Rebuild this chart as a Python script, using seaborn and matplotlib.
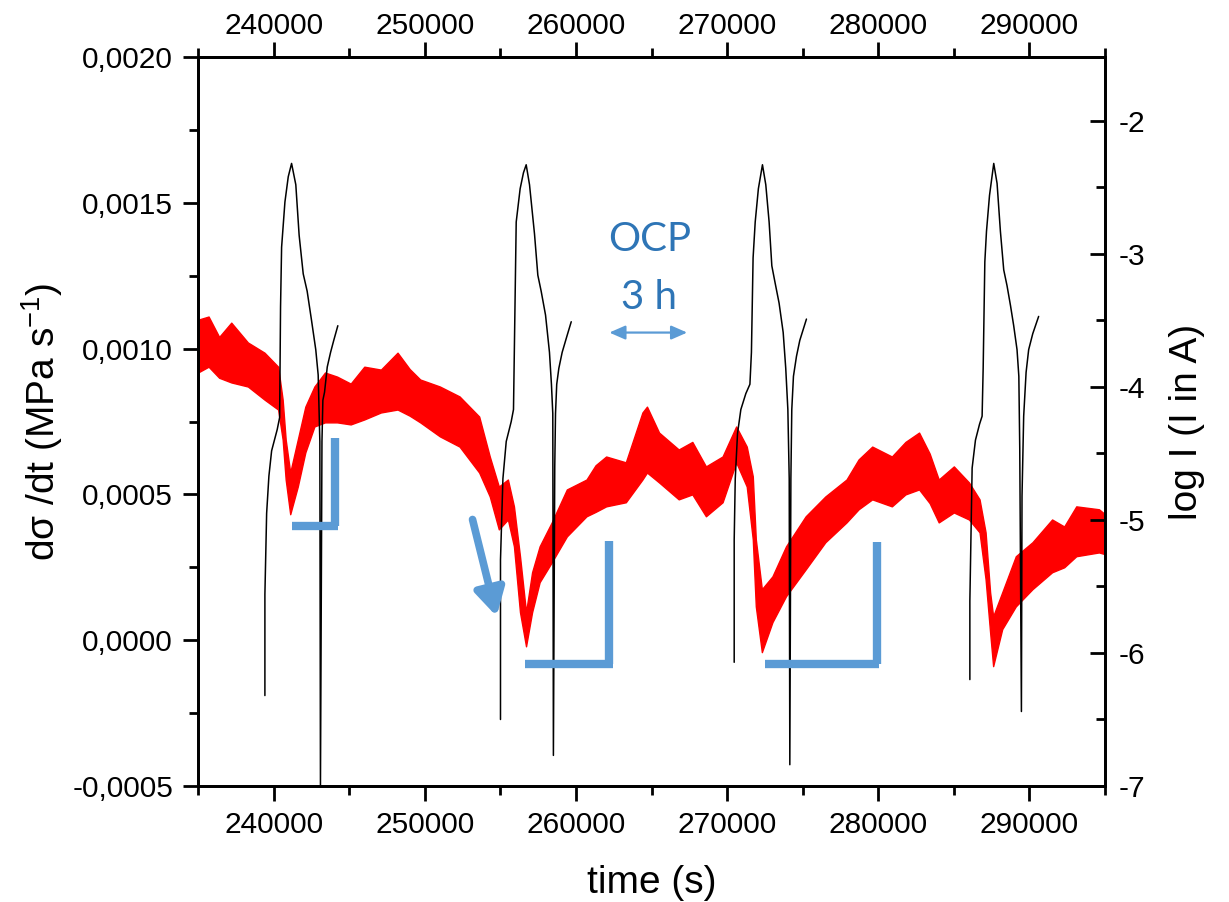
import numpy as np
import pandas as pd
import matplotlib
matplotlib.use("Agg")
import matplotlib.pyplot as plt
import seaborn as sns
from matplotlib.ticker import MultipleLocator, FuncFormatter

# ---------------- data ----------------
# red: stress-rate noise band, upper and lower envelope (MPa/s)
t_red = [235000, 235700, 236400, 237200, 238300, 239400, 240300, 240600, 240800, 241100, 241600,
         242100, 242700, 243400, 244200, 245100, 246000, 247100, 248200, 249000, 249700, 251000, 252300,
         253600, 254300, 254900, 255500, 255900, 256300, 256700, 257100, 257600, 258400,
         259400, 260700, 261300, 262000, 263300, 264400, 264700, 265500, 266800, 267700, 268600, 269700,
         270600, 271300, 271700, 271900, 272300, 273000, 273900, 275200, 276500, 277900,
         278700, 279600, 280900, 281800, 282700, 283400, 284000, 285000, 286000, 286700, 287100, 287400,
         287600, 288200, 289100, 290200, 291500, 292300, 293100, 294600, 295000]
red_top = [0.001099, 0.001110, 0.001040, 0.001089, 0.001021, 0.000986, 0.000938, 0.000825, 0.000688, 0.000575, 0.000688,
           0.000801, 0.000870, 0.000918, 0.000904, 0.000880, 0.000938, 0.000928, 0.000986, 0.000930, 0.000894, 0.000870, 0.000836,
           0.000767, 0.000630, 0.000527, 0.000551, 0.000459, 0.000288, 0.000096, 0.000233, 0.000322, 0.000404,
           0.000517, 0.000551, 0.000600, 0.000630, 0.000610, 0.000781, 0.000801, 0.000712, 0.000654, 0.000680, 0.000596, 0.000630,
           0.000733, 0.000664, 0.000562, 0.000346, 0.000175, 0.000219, 0.000322, 0.000425, 0.000493, 0.000551,
           0.000620, 0.000664, 0.000630, 0.000680, 0.000712, 0.000640, 0.000551, 0.000596, 0.000541, 0.000483, 0.000370, 0.000164,
           0.000082, 0.000164, 0.000288, 0.000336, 0.000414, 0.000390, 0.000459, 0.000449, 0.000432]
red_bot = [0.000918, 0.000938, 0.000900, 0.000884, 0.000870, 0.000825, 0.000791, 0.000688, 0.000551, 0.000432, 0.000527,
           0.000644, 0.000733, 0.000747, 0.000747, 0.000740, 0.000757, 0.000781, 0.000791, 0.000770, 0.000747, 0.000699, 0.000664,
           0.000575, 0.000493, 0.000380, 0.000414, 0.000322, 0.000096, -0.000021, 0.000096, 0.000199, 0.000267,
           0.000356, 0.000425, 0.000440, 0.000459, 0.000473, 0.000551, 0.000575, 0.000541, 0.000483, 0.000500, 0.000425, 0.000473,
           0.000610, 0.000527, 0.000346, 0.000116, -0.000041, 0.000062, 0.000151, 0.000243, 0.000336, 0.000404,
           0.000449, 0.000483, 0.000459, 0.000500, 0.000517, 0.000470, 0.000404, 0.000438, 0.000414, 0.000370, 0.000209, 0.000027,
           -0.000089, 0.000038, 0.000116, 0.000175, 0.000233, 0.000250, 0.000288, 0.000301, 0.000295]

# black: log I of the four polarisation pulses
t_p1 = [239425, 239425, 239540, 239690, 239870, 240240, 240400, 240460, 240530, 240750,
        240970, 241190, 241470, 241690, 241960, 242220, 242510, 242790, 242950, 243060,
        243100, 243200, 243260, 243370, 243550, 243770, 243980, 244250]
l_p1 = [-6.32, -5.56, -4.95, -4.67, -4.48, -4.32, -4.23, -3.40, -2.95, -2.61,
        -2.42, -2.32, -2.48, -2.86, -3.15, -3.28, -3.50, -3.72, -3.91, -4.41,
        -7.00, -4.41, -4.10, -4.04, -3.85, -3.74, -3.65, -3.54]
t_p2 = [255010, 255010, 255170, 255390, 255720, 255870, 255940, 256050, 256310, 256530,
        256710, 256930, 257260, 257480, 257700, 257990, 258250, 258380, 258470, 258510,
        258600, 258650, 258730, 258870, 259090, 259400, 259690]
l_p2 = [-6.50, -5.30, -4.69, -4.41, -4.26, -4.17, -3.62, -2.76, -2.51, -2.39,
        -2.33, -2.48, -2.85, -3.16, -3.28, -3.46, -3.74, -3.98, -4.20, -6.77,
        -4.60, -4.20, -3.98, -3.86, -3.74, -3.62, -3.51]
t_p3 = [270470, 270470, 270540, 270690, 270910, 271240, 271510, 271610, 271720, 271860,
        272070, 272340, 272560, 272780, 272960, 273180, 273440, 273710, 273880, 274020,
        274110, 274150, 274220, 274280, 274390, 274590, 274810, 275250]
l_p3 = [-6.07, -5.15, -4.69, -4.35, -4.17, -4.05, -3.98, -3.74, -3.03, -2.76,
        -2.51, -2.33, -2.48, -2.76, -3.09, -3.22, -3.37, -3.59, -3.86, -4.17,
        -4.69, -6.84, -4.69, -4.17, -3.92, -3.77, -3.65, -3.49]
t_p4 = [286060, 286060, 286210, 286430, 286700, 286870, 286940, 287050, 287160, 287360,
        287640, 287860, 288080, 288300, 288520, 288750, 288960, 289180, 289300, 289360,
        289470, 289510, 289620, 289780, 289950, 290220, 290610]
l_p4 = [-6.20, -5.61, -4.61, -4.40, -4.28, -4.22, -3.86, -3.06, -2.83, -2.56,
        -2.32, -2.47, -2.83, -3.12, -3.24, -3.39, -3.54, -3.72, -3.92, -4.46,
        -6.44, -4.82, -4.22, -3.89, -3.72, -3.60, -3.47]
pulses = [(t_p1, l_p1), (t_p2, l_p2), (t_p3, l_p3), (t_p4, l_p4)]

# ---------------- style ----------------
sns.set_theme(style="ticks")
plt.rcParams['font.family'] = ['Liberation Sans', 'DejaVu Sans']
plt.rcParams['axes.unicode_minus'] = False
plt.rcParams['mathtext.fontset'] = 'custom'
plt.rcParams['mathtext.rm'] = 'Liberation Sans'
plt.rcParams['mathtext.it'] = 'Liberation Sans:italic'

BLUE = '#5B9BD5'
TBLUE = '#2E75B6'
TICK_FS = 21.5
LAB_FS = 28

fig = plt.figure(figsize=(12.29, 9.02), dpi=100)
ax = fig.add_axes([0.16111, 0.12860, 0.73800, 0.80820])
ax2 = ax.twinx()

# red band (min/max envelope via percentile interval 100)
df_red = pd.DataFrame({'t': list(t_red) + list(t_red), 'v': list(red_top) + list(red_bot)})
sns.lineplot(data=df_red, x='t', y='v', estimator='mean', errorbar=('pi', 100),
             color='#FF0000', lw=1.0,
             err_kws={'alpha': 1, 'linewidth': 1.0, 'edgecolor': '#FF0000'}, ax=ax)

# black current pulses
for tp, lp in pulses:
    sns.lineplot(x=tp, y=lp, sort=False, estimator=None, color='black', lw=1.1, ax=ax2)

# limits
ax.set_xlim(235000, 295000)
ax.set_ylim(-0.0005, 0.0020)
ax2.set_ylim(-7, -1.52)

# ticks
ax.xaxis.set_major_locator(MultipleLocator(10000))
ax.xaxis.set_minor_locator(MultipleLocator(5000))
ax.xaxis.set_major_formatter(FuncFormatter(lambda v, p: f"{v:.0f}"))
ax.yaxis.set_major_locator(MultipleLocator(0.0005))
ax.yaxis.set_minor_locator(MultipleLocator(0.00025))
ax.yaxis.set_major_formatter(FuncFormatter(lambda v, p: f"{v:.4f}".replace('.', ',').replace('-0,0000', '0,0000')))
ax2.yaxis.set_major_locator(MultipleLocator(1))
ax2.yaxis.set_minor_locator(MultipleLocator(0.5))
ax2.yaxis.set_major_formatter(FuncFormatter(lambda v, p: f"{v:.0f}"))

ax.tick_params(axis='both', which='major', direction='out', length=11, width=2,
               labelsize=TICK_FS, pad=7, color='black', labelcolor='black')
ax.tick_params(axis='both', which='minor', direction='out', length=6.5, width=2, color='black')
ax2.tick_params(axis='y', which='major', direction='in', length=11, width=2,
                labelsize=TICK_FS, pad=10, color='black', labelcolor='black')
ax2.tick_params(axis='y', which='minor', direction='in', length=6.5, width=2, color='black')

sec = ax.secondary_xaxis('top')
sec.xaxis.set_major_locator(MultipleLocator(10000))
sec.xaxis.set_minor_locator(MultipleLocator(5000))
sec.xaxis.set_major_formatter(FuncFormatter(lambda v, p: f"{v:.0f}"))
sec.tick_params(axis='x', which='major', direction='out', length=11, width=2,
                labelsize=TICK_FS, pad=1, color='black', labelcolor='black')
sec.tick_params(axis='x', which='minor', direction='out', length=6.5, width=2, color='black')
sec.spines['top'].set_linewidth(2)
sec.spines['top'].set_color('black')

for a in (ax, ax2):
    for s in a.spines.values():
        s.set_linewidth(2)
        s.set_color('black')

ax.set_xlabel('time (s)', fontsize=LAB_FS, labelpad=19, color='black')
ax.set_ylabel('dσ /dt (MPa s$^{\\mathregular{-1}}$)', fontsize=LAB_FS, labelpad=5, color='black')
ax2.set_ylabel('log I (I in A)', fontsize=LAB_FS, labelpad=17, color='black')

# ---------------- blue annotations (left-axis data coordinates) ----------------
tr = ax.transData
brackets = [
    ((241210, 244250), 0.000390, 244050, (0.000695, 0.000390)),
    ((256660, 262480), -0.000082, 262210, (0.000339, -0.000082)),
    ((272520, 280050), -0.000082, 279910, (0.000336, -0.000082)),
]
for (xa, xb), yh, xv, (yv0, yv1) in brackets:
    ax2.plot([xa, xb], [yh, yh], color=BLUE, lw=6, solid_capstyle='butt', transform=tr, zorder=5)
    ax2.plot([xv, xv], [yv0, yv1], color=BLUE, lw=6, solid_capstyle='butt', transform=tr, zorder=5)

ax2.annotate('', xy=(254750, 0.000082), xytext=(253160, 0.000414),
             xycoords=tr, textcoords=tr,
             arrowprops=dict(arrowstyle='-|>,head_length=0.8,head_width=0.45',
                             lw=5.5, color=BLUE, mutation_scale=20, shrinkA=0, shrinkB=0),
             zorder=5)
ax2.annotate('', xy=(267360, 0.001055), xytext=(262210, 0.001055),
             xycoords=tr, textcoords=tr,
             arrowprops=dict(arrowstyle='<|-|>,head_length=0.8,head_width=0.35',
                             lw=1.6, color=BLUE, mutation_scale=12, shrinkA=0, shrinkB=0),
             zorder=5)
ax2.text(264860, 0.001373, 'OCP', transform=tr, ha='center', va='center',
         fontsize=29, color=TBLUE, family=['Lato', 'DejaVu Sans'])
ax2.text(264860, 0.001175, '3 h', transform=tr, ha='center', va='center',
         fontsize=29, color=TBLUE, family=['Lato', 'DejaVu Sans'])

fig.savefig('out.png', dpi=100, facecolor='white')
